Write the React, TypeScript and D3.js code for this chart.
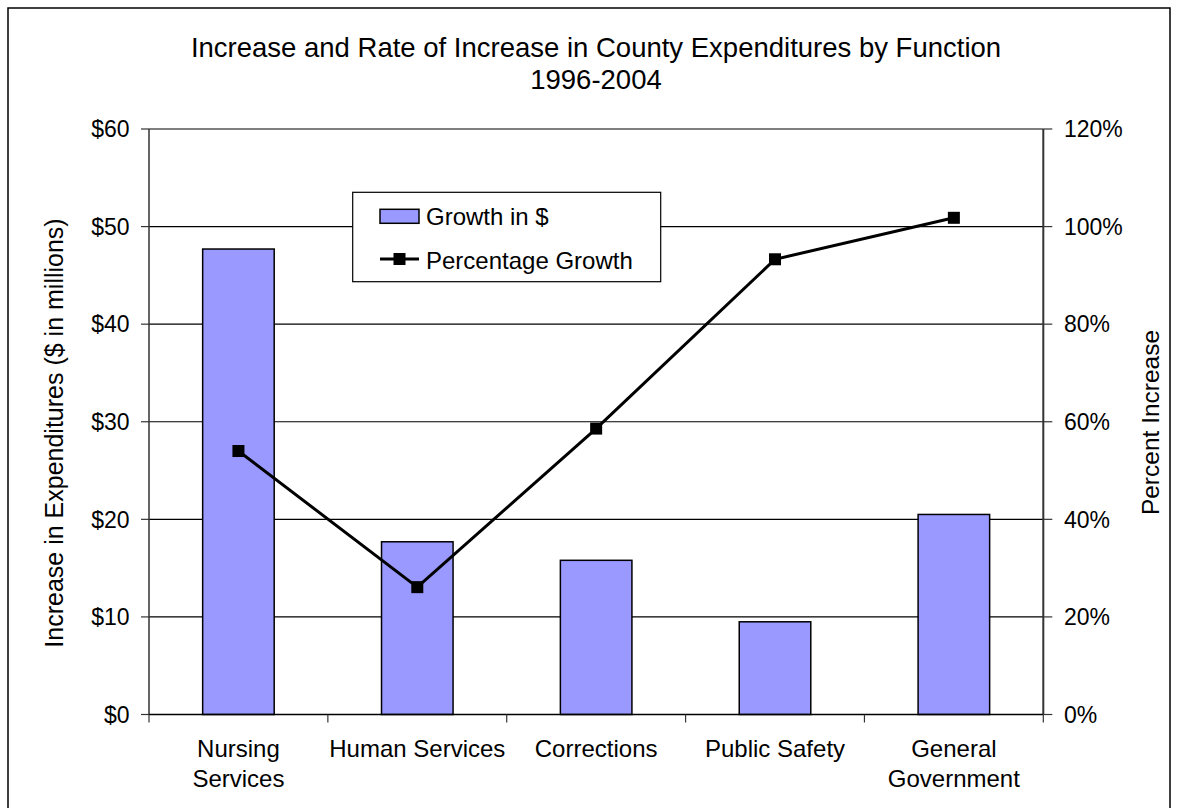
import React from "react";
import * as d3 from "d3";

const categories = ["Nursing Services", "Human Services", "Corrections", "Public Safety", "General Government"];
const categoryLines = [["Nursing", "Services"], ["Human Services"], ["Corrections"], ["Public Safety"], ["General", "Government"]];
const growthDollars = [47.7, 17.7, 15.8, 9.5, 20.5];
const growthPercent = [54.0, 26.1, 58.6, 93.3, 101.8];
const leftTicks = [0, 10, 20, 30, 40, 50, 60];
const rightTicks = [0, 20, 40, 60, 80, 100, 120];
const titleLines = ["Increase and Rate of Increase in County Expenditures by Function", "1996-2004"];
const legendLabels = ["Growth in $", "Percentage Growth"];

const FONT = "'Liberation Sans', Arial, Helvetica, sans-serif";
const BAR = "#9999FF";

export default function App() {
  const W = 1177, H = 808;
  const L = 149, R = 1043.3, T = 129, B = 714.5;
  const xCat = d3.scaleBand<string>().domain(categories).range([L, R]).padding(0);
  const bw = xCat.bandwidth();
  const yL = d3.scaleLinear().domain([0, 60]).range([B, T]);
  const yR = d3.scaleLinear().domain([0, 120]).range([B, T]);
  const fmtL = (v: number) => "$" + d3.format("d")(v);
  const fmtR = (v: number) => d3.format("d")(v) + "%";
  const cx = (c: string) => (xCat(c) as number) + bw / 2;
  const linePath = d3.line<number>().x((_, i) => cx(categories[i])).y((v) => yR(v))(growthPercent) as string;
  const boundaries = [...categories.map((c) => xCat(c) as number), R];
  const ms = 12;

  return (
    <svg width={W} height={H} style={{ position: "absolute", left: 0, top: 0, background: "#fff" }} fontFamily={FONT}>
      <rect x={8} y={8} width={1162} height={830} fill="#fff" stroke="#000" strokeWidth={1.5} />
      {/* title */}
      <text x={596} y={57.3} textAnchor="middle" fontSize={27.5} fill="#000">{titleLines[0]}</text>
      <text x={596} y={88.5} textAnchor="middle" fontSize={27.5} fill="#000">{titleLines[1]}</text>

      {/* gridlines */}
      {leftTicks.map((t) => (
        <line key={"g" + t} x1={L} x2={R} y1={yL(t)} y2={yL(t)} stroke="#000" strokeWidth={1.2} />
      ))}
      {/* bars */}
      {categories.map((c, i) => (
        <rect key={c} x={(xCat(c) as number) + bw * 0.3} width={bw * 0.4} y={yL(growthDollars[i])} height={B - yL(growthDollars[i])}
          fill={BAR} stroke="#000" strokeWidth={1.5} />
      ))}
      {/* axes */}
      <line x1={L} x2={L} y1={T} y2={B} stroke="#333" strokeWidth={1.5} />
      <line x1={R} x2={R} y1={T} y2={B} stroke="#333" strokeWidth={2} />
      <line x1={L} x2={R} y1={B} y2={B} stroke="#000" strokeWidth={1.5} />
      {leftTicks.map((t) => (
        <g key={"l" + t}>
          <line x1={L - 8} x2={L} y1={yL(t)} y2={yL(t)} stroke="#333" strokeWidth={1.2} />
          <text x={129.5} y={yL(t) + 8.2} textAnchor="end" fontSize={23}>{fmtL(t)}</text>
        </g>
      ))}
      {rightTicks.map((t) => (
        <g key={"r" + t}>
          <line x1={R} x2={R + 9} y1={yR(t)} y2={yR(t)} stroke="#333" strokeWidth={1.2} />
          <text x={1064} y={yR(t) + 8.2} textAnchor="start" fontSize={23}>{fmtR(t)}</text>
        </g>
      ))}
      {boundaries.map((bx, i) => (
        <line key={"xt" + i} x1={bx} x2={bx} y1={B} y2={B + 8} stroke="#333" strokeWidth={1.2} />
      ))}
      {categoryLines.map((lines, i) => (
        <text key={"c" + i} textAnchor="middle" fontSize={24}>
          {lines.map((ln, j) => (
            <tspan key={j} x={cx(categories[i])} y={757.3 + j * 29.4}>{ln}</tspan>
          ))}
        </text>
      ))}
      {/* axis titles */}
      <text transform={`translate(${62.5},${433}) rotate(-90)`} textAnchor="middle" fontSize={25}>
        Increase in Expenditures ($ in millions)
      </text>
      <text transform={`translate(${1158.5},${422.5}) rotate(-90)`} textAnchor="middle" fontSize={24.5}>
        Percent Increase
      </text>

      {/* line series */}
      <path d={linePath} fill="none" stroke="#000" strokeWidth={3} />
      {growthPercent.map((v, i) => (
        <rect key={"m" + i} x={cx(categories[i]) - ms / 2} y={yR(v) - ms / 2} width={ms} height={ms} fill="#000" />
      ))}

      {/* legend */}
      <rect x={352.7} y={192.3} width={308} height={89.4} fill="#fff" stroke="#000" strokeWidth={1.2} />
      <rect x={380} y={209.3} width={39} height={14} fill={BAR} stroke="#000" strokeWidth={1.5} />
      <text x={426} y={224.5} fontSize={24}>{legendLabels[0]}</text>
      <line x1={380} x2={419} y1={259} y2={259} stroke="#000" strokeWidth={3} />
      <rect x={399.5 - ms / 2} y={259 - ms / 2} width={ms} height={ms} fill="#000" />
      <text x={426} y={268.5} fontSize={24}>{legendLabels[1]}</text>
    </svg>
  );
}
